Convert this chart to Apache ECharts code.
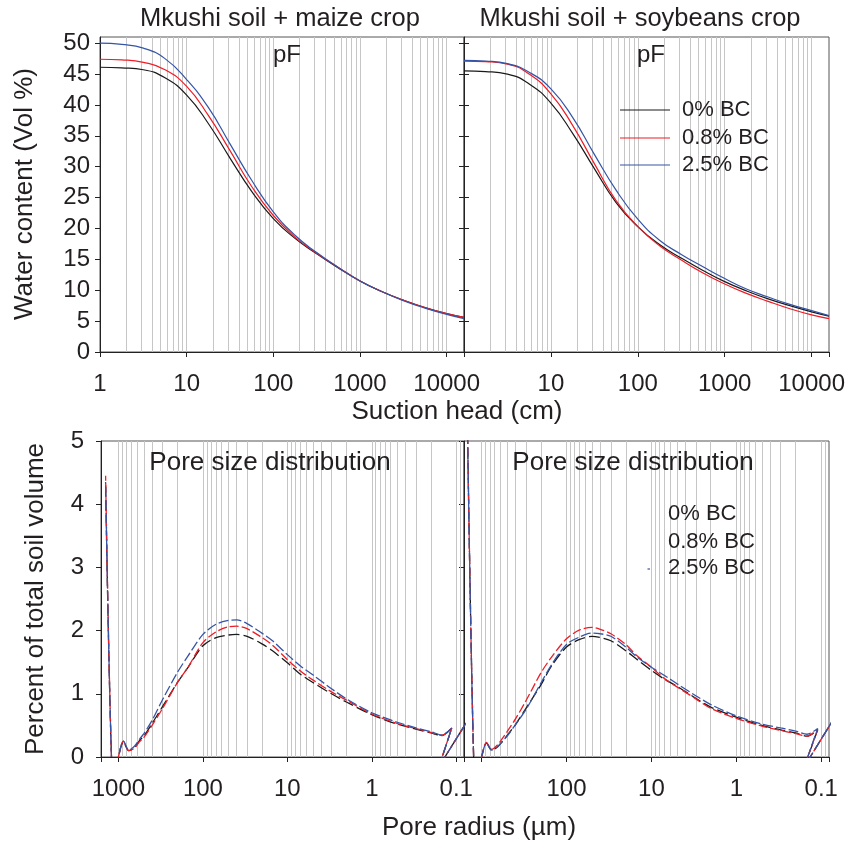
<!DOCTYPE html>
<html>
<head>
<meta charset="utf-8">
<script src="https://cdn.jsdelivr.net/npm/echarts@6/dist/echarts.min.js"></script>
<style>
  html, body { margin: 0; padding: 0; background: #ffffff; }
  #chart { width: 850px; height: 847px; }
</style>
</head>
<body>
<div id="chart"></div>
<script>
// ---- water retention (pF) curves: suction head in cm, water content in vol % ----
const suctionHead = [1, 1.778, 3.162, 5.623, 10, 17.78, 31.62, 56.23, 100, 177.8, 316.2, 562.3, 1000, 1778, 3162, 5623, 10000, 15849];

const maizeWC_0  = [46.1, 46.0, 45.7, 44.4, 41.6, 37.0, 31.4, 26.0, 21.6, 18.4, 15.9, 13.6, 11.5, 9.8, 8.4, 7.2, 6.2, 5.6];
const maizeWC_08 = [47.4, 47.3, 46.9, 45.7, 43.0, 38.3, 32.6, 26.8, 22.1, 18.6, 16.0, 13.7, 11.5, 9.8, 8.4, 7.2, 6.2, 5.6];
const maizeWC_25 = [50.0, 49.8, 49.2, 47.5, 44.1, 39.6, 33.7, 27.8, 22.7, 18.9, 16.1, 13.7, 11.5, 9.8, 8.3, 7.1, 6.1, 5.4];

const soyWC_0  = [45.5, 45.4, 45.0, 43.4, 40.3, 35.4, 29.7, 24.2, 20.3, 17.4, 15.2, 13.2, 11.4, 9.9, 8.6, 7.5, 6.5, 5.8];
const soyWC_08 = [47.1, 47.0, 46.6, 45.0, 41.8, 36.7, 30.5, 24.5, 20.3, 17.2, 14.9, 12.8, 11.0, 9.5, 8.2, 7.0, 6.0, 5.4];
const soyWC_25 = [47.2, 47.1, 46.7, 45.3, 42.6, 38.0, 32.0, 26.2, 21.5, 18.1, 15.8, 13.8, 11.9, 10.2, 8.9, 7.7, 6.7, 5.9];

// ---- pore size distribution: pore radius in µm, percent of total soil volume ----
const maizeRadius = [1420, 1210, 1090, 1000, 873, 755, 647, 565, 500, 400, 300, 200, 150, 100, 70, 50, 40, 30, 20, 15, 10, 7, 5, 3, 2, 1, 0.5, 0.3, 0.2, 0.148, 0.113, 0.16, 0.07];
const maizePSD_0  = [4.30, 0, -0.3, 0, 0.24, 0.10, 0.15, 0.26, 0.33, 0.53, 0.80, 1.18, 1.42, 1.76, 1.89, 1.93, 1.94, 1.91, 1.79, 1.68, 1.49, 1.31, 1.18, 1.00, 0.87, 0.67, 0.52, 0.44, 0.38, 0.34, 0.46, -0.15, 0.62];
const maizePSD_08 = [4.45, 0, -0.3, 0, 0.25, 0.10, 0.14, 0.24, 0.31, 0.50, 0.77, 1.18, 1.42, 1.81, 1.98, 2.06, 2.07, 2.03, 1.89, 1.77, 1.54, 1.36, 1.22, 1.03, 0.90, 0.68, 0.53, 0.45, 0.39, 0.34, 0.46, -0.15, 0.62];
const maizePSD_25 = [4.35, 0, -0.3, 0, 0.25, 0.11, 0.17, 0.28, 0.37, 0.58, 0.91, 1.34, 1.60, 1.94, 2.10, 2.16, 2.17, 2.11, 1.96, 1.84, 1.62, 1.44, 1.30, 1.08, 0.92, 0.70, 0.55, 0.46, 0.40, 0.35, 0.46, -0.15, 0.62];

const soyRadius = [1480, 1240, 1120, 1000, 873, 762, 650, 565, 500, 400, 300, 200, 150, 100, 70, 50, 40, 30, 20, 15, 10, 7, 5, 3, 2, 1, 0.5, 0.3, 0.2, 0.147, 0.110, 0.158, 0.07];
const soyPSD_0  = [5.6, 0, -0.3, 0, 0.22, 0.11, 0.16, 0.25, 0.34, 0.51, 0.77, 1.14, 1.44, 1.74, 1.86, 1.91, 1.89, 1.84, 1.68, 1.55, 1.37, 1.23, 1.12, 0.93, 0.79, 0.63, 0.50, 0.43, 0.38, 0.33, 0.43, -0.15, 0.62];
const soyPSD_08 = [5.6, 0, -0.3, 0, 0.23, 0.12, 0.19, 0.30, 0.40, 0.60, 0.89, 1.33, 1.58, 1.87, 2.01, 2.05, 2.02, 1.95, 1.78, 1.61, 1.42, 1.24, 1.11, 0.92, 0.77, 0.61, 0.49, 0.42, 0.37, 0.33, 0.44, -0.15, 0.62];
const soyPSD_25 = [5.6, 0, -0.3, 0, 0.22, 0.11, 0.16, 0.25, 0.33, 0.51, 0.75, 1.17, 1.46, 1.78, 1.90, 1.96, 1.95, 1.91, 1.74, 1.59, 1.42, 1.29, 1.16, 0.97, 0.83, 0.65, 0.52, 0.46, 0.41, 0.36, 0.45, -0.15, 0.62];

// ---- labels and ticks ----
const treatments = ['0% BC', '0.8% BC', '2.5% BC'];
const headTicks = [1, 10, 100, 1000, 10000];
const radiusTicks = [1000, 100, 10, 1, 0.1];
const wcTicks = [0, 5, 10, 15, 20, 25, 30, 35, 40, 45, 50];
const psdTicks = [0, 1, 2, 3, 4, 5];
const panelTitles = ['Mkushi soil + maize crop', 'Mkushi soil + soybeans crop'];

const colors = ['#1a1a1a', '#ee1c25', '#3554a5'];
const FONT = '"Liberation Sans", Arial, Helvetica, sans-serif';
const TXT = '#231f20';

const chart = echarts.init(document.getElementById('chart'), null, { renderer: 'canvas' });

// grid rectangles: top-left, top-right, bottom-left, bottom-right
const grids = [
  { left: 100, top: 37, width: 364, height: 315 },
  { left: 464, top: 37, width: 365, height: 315 },
  { left: 101, top: 441, width: 363, height: 316 },
  { left: 464, top: 441, width: 365, height: 316 }
].map(g => Object.assign({ show: true, borderColor: '#555', borderWidth: 1, backgroundColor: 'transparent', containLabel: false }, g));

// vertical guide lines at every 1..9 x 10^n inside a log range
function logGuides(lo, hi) {
  const out = [];
  for (let e = Math.floor(Math.log10(lo)); e <= Math.ceil(Math.log10(hi)); e++) {
    for (let k = 1; k <= 9; k++) {
      const v = k * Math.pow(10, e);
      if (v > lo * 1.0001 && v < hi * 0.9999) out.push(v);
    }
  }
  return out;
}

function isListed(list, v) {
  return list.some(t => Math.abs(Math.log10(v) - Math.log10(t)) < 1e-6);
}

const headMin = 1, headMax = 15849;
const radMin = 0.081, radMax = 1610;

function logX(grid, min, max, inverse, shownLabels) {
  return {
    type: 'log', logBase: 10, gridIndex: grid, min: min, max: max, inverse: inverse,
    axisLine: { show: true, onZero: false, lineStyle: { color: '#222', width: 1 } },
    axisTick: { show: true, length: 5, lineStyle: { color: '#222' } },
    axisLabel: {
      show: true, margin: 20, fontSize: 24, color: TXT, fontFamily: FONT,
      formatter: v => (isListed(shownLabels, v) ? String(+v.toPrecision(6)) : '')
    },
    splitLine: { show: false }, minorTick: { show: false }
  };
}

function valY(grid, max, ticks, labels, margin, inside) {
  return {
    type: 'value', gridIndex: grid, min: 0, max: max, position: 'left',
    axisLine: { show: !inside, onZero: false, lineStyle: { color: '#222', width: 1 } },
    axisTick: { show: true, inside: !!inside, length: 5, customValues: ticks, lineStyle: { color: '#222' } },
    axisLabel: { show: labels, customValues: ticks, margin: margin, fontSize: 24, color: TXT, fontFamily: FONT },
    splitLine: { show: false }
  };
}

const xAxes = [
  logX(0, headMin, headMax, false, headTicks),
  logX(1, headMin, headMax, false, headTicks.filter(t => t !== 1)),
  logX(2, radMin, radMax, true, radiusTicks),
  logX(3, radMin, radMax, true, radiusTicks.filter(t => t !== 1000))
];

const yAxes = [
  valY(0, 51, wcTicks, true, 10),
  valY(1, 51, wcTicks, false, 10),
  valY(2, 5, psdTicks, true, 17),
  valY(3, 5, psdTicks, false, 17),
  valY(1, 51, wcTicks, false, 10, true)
];

const series = [];

// light guide lines, drawn beneath the curves
[[0, headMin, headMax], [1, headMin, headMax], [2, radMin, radMax], [3, radMin, radMax]].forEach(([g, lo, hi]) => {
  series.push({
    type: 'line', xAxisIndex: g, yAxisIndex: g, data: [], silent: true, z: 1,
    markLine: {
      silent: true, symbol: 'none', z: 1, animation: false,
      label: { show: false },
      lineStyle: { color: '#c6c6c6', width: 1, type: 'solid' },
      emphasis: { disabled: true },
      data: logGuides(lo, hi).map(v => ({ xAxis: v }))
    }
  });
});

function pairs(xs, ys) { return xs.map((x, i) => [x, ys[i]]); }

const wcSets = [[maizeWC_0, maizeWC_08, maizeWC_25], [soyWC_0, soyWC_08, soyWC_25]];
wcSets.forEach((set, g) => {
  set.forEach((vals, i) => {
    series.push({
      name: treatments[i], type: 'line', xAxisIndex: g, yAxisIndex: g,
      data: pairs(suctionHead, vals), smooth: 0.5,
      showSymbol: false, symbol: 'none',
      clip: true, z: 3, lineStyle: { color: colors[i], width: 1.2 }
    });
  });
});

const dashes = [[11, 4], [9, 3], [10, 3]];
const psdSets = [[maizeRadius, [maizePSD_0, maizePSD_08, maizePSD_25]], [soyRadius, [soyPSD_0, soyPSD_08, soyPSD_25]]];
psdSets.forEach(([radius, set], k) => {
  const g = k + 2;
  set.forEach((vals, i) => {
    series.push({
      name: treatments[i], type: 'line', xAxisIndex: g, yAxisIndex: g,
      data: pairs(radius, vals), smooth: 0.3, showSymbol: false, symbol: 'none',
      clip: true, z: 3,
      lineStyle: { color: colors[i], width: 1.3, type: dashes[i], dashOffset: i * 4 }
    });
  });
});

// text and legends
const graphic = [];
function txt(x, y, s, size, opts) {
  graphic.push(Object.assign({
    type: 'text', x: x, y: y, silent: true, z: 10,
    style: { text: s, fill: TXT, font: size + 'px ' + FONT, textAlign: 'center', textVerticalAlign: 'middle' }
  }, opts || {}));
}
txt(280, 19, panelTitles[0], 25.5);
txt(640, 19, panelTitles[1], 25.5);
txt(287, 55, 'pF', 24);
txt(651, 55, 'pF', 24);
txt(270, 463, 'Pore size distribution', 26);
txt(633, 463, 'Pore size distribution', 26);
txt(457, 412, 'Suction head (cm)', 26);
txt(479, 828, 'Pore radius (µm)', 26);
txt(25, 194, 'Water content (Vol %)', 26, { rotation: Math.PI / 2 });
txt(36, 599, 'Percent of total soil volume', 26, { rotation: Math.PI / 2 });

const legendTopY = [110, 138, 165];
treatments.forEach((name, i) => {
  graphic.push({
    type: 'line', silent: true, z: 10,
    shape: { x1: 620, y1: legendTopY[i], x2: 670, y2: legendTopY[i] },
    style: { stroke: colors[i], lineWidth: 1.2 }
  });
  graphic.push({
    type: 'text', x: 682, y: legendTopY[i], silent: true, z: 10,
    style: { text: name, fill: TXT, font: '22px ' + FONT, textAlign: 'left', textVerticalAlign: 'middle' }
  });
});

const legendBottomY = [514, 541.5, 568];
treatments.forEach((name, i) => {
  graphic.push({
    type: 'text', x: 668, y: legendBottomY[i], silent: true, z: 10,
    style: { text: name, fill: TXT, font: '22px ' + FONT, textAlign: 'left', textVerticalAlign: 'middle' }
  });
});
// the dashed legend samples only show a sliver of their first dash
graphic.push({
  type: 'line', silent: true, z: 10,
  shape: { x1: 647.5, y1: 569, x2: 650, y2: 569 },
  style: { stroke: colors[2], lineWidth: 1.2 }
});

chart.setOption({
  animation: false,
  backgroundColor: '#ffffff',
  grid: grids,
  xAxis: xAxes,
  yAxis: yAxes,
  series: series,
  graphic: graphic
});
</script>
</body>
</html>
